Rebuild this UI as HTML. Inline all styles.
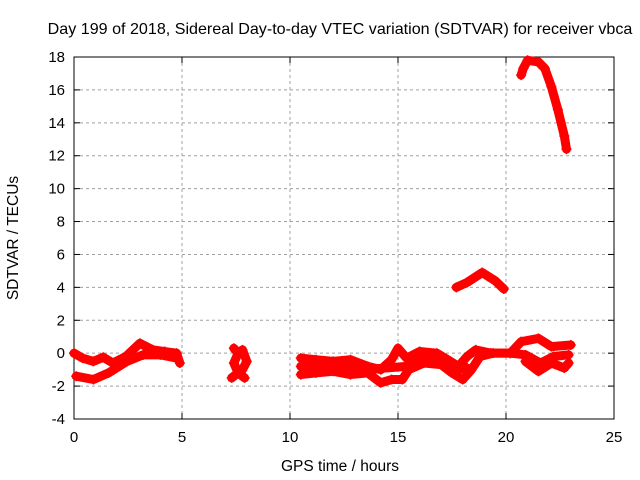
<!DOCTYPE html>
<html><head><meta charset="utf-8"><style>
body{margin:0;background:#fff;}
svg{display:block;font-family:"Liberation Sans",sans-serif;}
</style></head><body>
<svg id="chart" width="640" height="480">
<rect width="640" height="480" fill="#fff"/>
<g id="grid"></g>
<g id="axes"></g>
<g id="series"></g>
<text x="340" y="34" text-anchor="middle" font-size="16.1">Day 199 of 2018, Sidereal Day-to-day VTEC variation (SDTVAR) for receiver vbca</text>
<text x="340" y="471" text-anchor="middle" font-size="15.5">GPS time / hours</text>
<text x="18" y="238" text-anchor="middle" font-size="15.5" transform="rotate(-90 18 238)">SDTVAR / TECUs</text>
</svg>
<script>
const xTicks=[0,5,10,15,20,25];
const yTicks=[-4,-2,0,2,4,6,8,10,12,14,16,18];
const trackEarlyUpper=[[0,0],[0.4,-0.3],[0.9,-0.5],[1.35,-0.25],[1.8,-0.6],[2.4,-0.2],[3.05,0.6],[3.65,0.2],[4.2,0.1],[4.75,0],[4.9,-0.6]];
const trackEarlyLower=[[0.1,-1.4],[0.9,-1.6],[1.6,-1.2],[2.45,-0.5],[3.2,-0.1],[4.0,-0.1],[4.75,-0.3]];
const trackMidA=[[7.4,0.3],[7.6,0],[7.4,-0.6],[7.6,-1.2],[7.9,-1.5]];
const trackMidB=[[7.8,0.2],[8.0,-0.5],[7.8,-1.0],[7.3,-1.5]];
const trackBandUpper=[[10.5,-0.3],[11.2,-0.4],[12,-0.5],[12.8,-0.4],[13.6,-0.8],[14.2,-1.0],[14.7,-0.4],[15.0,0.3],[15.4,-0.3],[16,0.1],[16.8,0],[17.3,-0.4],[17.8,-0.8],[18.2,-0.2],[18.6,0.2],[19.3,0],[20.2,0]];
const trackBandMiddle=[[10.5,-0.8],[11.2,-0.8],[12,-0.8],[12.8,-0.9],[13.5,-1.0],[15.4,-0.8],[16.2,-0.3],[17,-0.3],[17.6,-1.0],[18.2,-0.9]];
const trackBandLower=[[10.5,-1.3],[11.2,-1.2],[12,-1.1],[12.8,-1.3],[13.6,-1.2],[14.2,-1.8],[14.7,-1.6],[15.2,-1.6],[15.5,-1.0],[16.2,-0.6],[17,-0.7],[17.5,-1.2],[18.0,-1.6],[18.4,-1.0],[18.8,-0.2],[19.4,0],[20.2,0]];
const trackLateUpper=[[20.2,0],[20.7,0.7],[21.5,0.9],[22.1,0.4],[23.0,0.5]];
const trackLateMid=[[20.2,0],[20.9,-0.1],[21.6,-0.6],[22.2,-0.2],[22.9,-0.1]];
const trackLateLower=[[20.9,-0.5],[21.5,-1.1],[22.1,-0.6],[22.7,-0.9],[22.9,-0.6]];
const trackHump=[[17.7,4.0],[18.2,4.3],[18.9,4.9],[19.5,4.4],[19.9,3.9]];
const trackPeak=[[20.7,16.9],[20.8,17.3],[21.0,17.8],[21.5,17.7],[21.8,17.3],[22.1,16.2],[22.4,14.8],[22.7,13.2],[22.8,12.4]];
const tracks=[trackEarlyUpper,trackEarlyLower,trackMidA,trackMidB,trackBandUpper,trackBandMiddle,trackBandLower,trackLateUpper,trackLateMid,trackLateLower,trackHump,trackPeak];
const L=74,R=614,T=57,B=419;
const xs=h=>L+(h-0)/25*(R-L);
const ys=v=>B-(v+4)/22*(B-T);
const NS="http://www.w3.org/2000/svg";
function mk(tag,attrs,parent){const e=document.createElementNS(NS,tag);for(const k in attrs)e.setAttribute(k,attrs[k]);parent.appendChild(e);return e;}
const grid=document.getElementById('grid'),axes=document.getElementById('axes'),series=document.getElementById('series');
xTicks.forEach(t=>{const x=xs(t);
 if(t>0&&t<25){const g=mk('line',{x1:x,x2:x,y1:T,y2:B,stroke:'#a0a0a0','stroke-dasharray':'3,3'},grid);
 
 }
 mk('line',{x1:x,x2:x,y1:B,y2:B-6,stroke:'#000'},axes);
 mk('line',{x1:x,x2:x,y1:T,y2:T+6,stroke:'#000'},axes);
 const tx=mk('text',{x:x,y:B+23,'text-anchor':'middle','font-size':'15'},axes);tx.textContent=t;
 
 });
yTicks.forEach(t=>{const y=ys(t);
 if(t>-4&&t<18){const g=mk('line',{x1:L,x2:R,y1:y,y2:y,stroke:'#a0a0a0','stroke-dasharray':'3,3'},grid);
 
 }
 mk('line',{x1:L,x2:L+6,y1:y,y2:y,stroke:'#000'},axes);
 mk('line',{x1:R,x2:R-6,y1:y,y2:y,stroke:'#000'},axes);
 const tx=mk('text',{x:L-9,y:y+5,'text-anchor':'end','font-size':'15'},axes);tx.textContent=t;
 
 });
mk('rect',{x:L,y:T,width:R-L,height:B-T,fill:'none',stroke:'#000'},axes);
tracks.forEach(tr=>{
 const pl=mk('polyline',{points:tr.map(p=>xs(p[0])+','+ys(p[1])).join(' '),fill:'none',stroke:'#ff0000','stroke-width':'9','stroke-linejoin':'round','stroke-linecap':'round'},series);
 
 
 tr.forEach(p=>{const x=xs(p[0]),y=ys(p[1]);
  const m=mk('path',{d:`M${x-5},${y}H${x+5}M${x},${y-5}V${y+5}`,stroke:'#ff0000','stroke-width':'1.5'},series);
  
  });
});
</script>
</body></html>
